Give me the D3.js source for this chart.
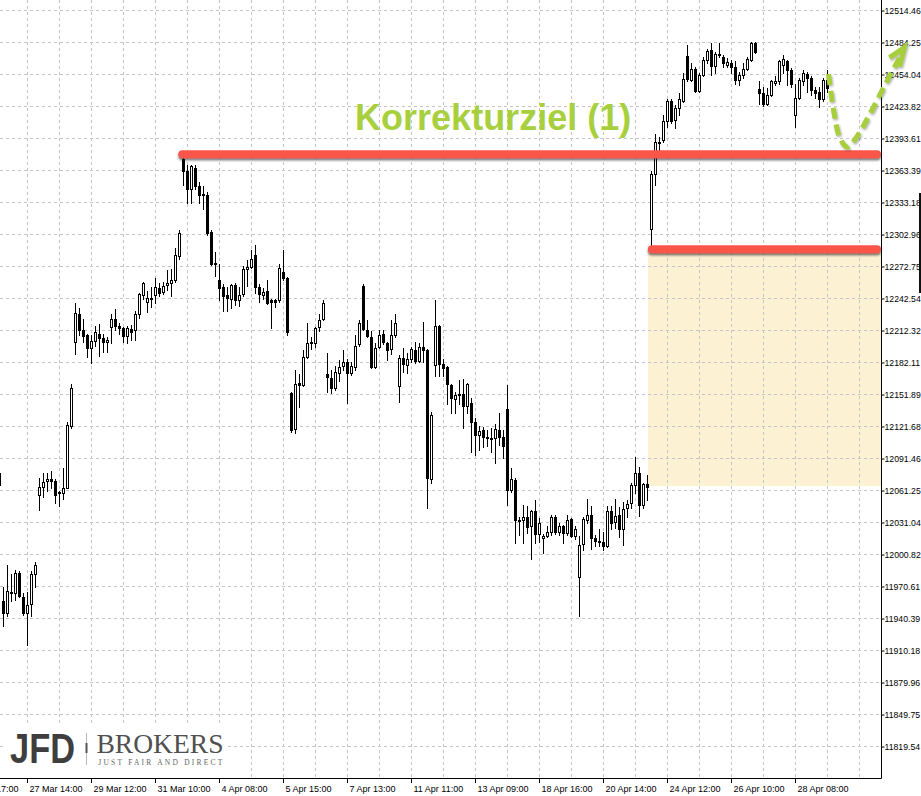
<!DOCTYPE html>
<html><head><meta charset="utf-8">
<script src="https://cdn.jsdelivr.net/npm/d3@7/dist/d3.min.js"></script>
<style>html,body{margin:0;padding:0;background:#fff;overflow:hidden}</style>
</head><body>
<svg id="chart" width="921" height="796"></svg>
<script>
// ---- DATA (DAX bars) ----
const opens = [12077,11956,11945,11964,11964,11983,11960,11945,11954,11982,
12057,12064,12070,12072,12070,12059,12058,12063,12122,12201,
12227,12212,12208,12195,12202,12209,12205,12201,12215,12223,
12216,12214,12207,12213,12212,12227,12245,12239,12243,12245,
12252,12248,12255,12257,12260,12282,12374,12362,12345,12365,
12348,12341,12340,12305,12276,12260,12253,12245,12242,12255,
12241,12246,12270,12272,12283,12253,12245,12249,12241,12241,
12241,12267,12261,12153,12119,12162,12160,12187,12200,12200,
12215,12223,12171,12167,12158,12172,12178,12182,12172,12177,
12199,12254,12212,12206,12177,12196,12209,12200,12194,12208,
12159,12186,12179,12185,12193,12183,12196,12193,12072,12179,
12216,12180,12177,12160,12147,12152,12152,12141,12143,12125,
12113,12118,12111,12110,12110,12118,12111,12138,12061,12071,
12033,12033,12036,12027,12041,12020,12016,12018,12022,12036,
12022,12027,12021,12034,12018,11979,12010,12033,12038,12016,
12013,12012,12008,12041,12031,12038,12024,12044,12049,12066,
12077,12047,12067,12308,12360,12390,12392,12410,12429,12411,
12422,12429,12471,12448,12459,12438,12453,12467,12477,12462,
12472,12470,12463,12464,12461,12448,12453,12459,12467,12483,
12440,12436,12426,12434,12446,12447,12463,12466,12458,12415,
12431,12447,12454,12450,12439,12437,12430,12448];
const highs = [12082,11970,11990,11982,11986,11985,11964,11965,11985,11993,
12073,12077,12077,12079,12072,12060,12082,12125,12161,12238,
12233,12223,12209,12208,12216,12218,12209,12206,12227,12232,
12219,12215,12216,12217,12230,12247,12258,12249,12253,12261,
12257,12258,12269,12270,12290,12307,12378,12368,12368,12368,
12352,12348,12343,12307,12286,12275,12256,12253,12256,12257,
12253,12273,12278,12288,12293,12256,12252,12260,12242,12242,
12275,12288,12262,12154,12175,12171,12193,12219,12206,12215,
12227,12241,12191,12175,12178,12184,12193,12185,12182,12208,
12222,12256,12222,12211,12200,12212,12212,12201,12222,12227,
12189,12195,12191,12196,12201,12200,12220,12194,12135,12241,
12217,12185,12178,12161,12154,12165,12166,12162,12148,12129,
12122,12121,12118,12120,12124,12134,12118,12160,12082,12073,
12036,12047,12046,12042,12052,12035,12020,12027,12038,12038,
12030,12028,12038,12035,12027,12018,12036,12053,12046,12019,
12024,12022,12046,12046,12053,12045,12050,12052,12068,12092,
12083,12068,12075,12362,12397,12395,12415,12430,12430,12425,
12436,12455,12481,12464,12461,12455,12470,12478,12483,12475,
12483,12472,12469,12467,12466,12456,12464,12470,12484,12484,
12447,12442,12441,12448,12452,12467,12472,12467,12460,12445,
12450,12458,12456,12452,12442,12442,12450,12458];
const lows = [12045,11933,11942,11956,11957,11960,11943,11915,11942,11970,
12042,12055,12060,12063,12049,12046,12053,12063,12120,12190,
12208,12201,12187,12181,12197,12188,12192,12192,12200,12212,
12209,12201,12200,12203,12203,12224,12242,12229,12234,12238,
12244,12246,12250,12244,12258,12279,12349,12332,12332,12345,
12332,12327,12302,12274,12263,12241,12230,12230,12233,12236,
12235,12244,12254,12271,12247,12239,12242,12237,12214,12234,
12239,12260,12208,12116,12115,12140,12159,12186,12194,12196,
12211,12222,12154,12153,12156,12164,12175,12143,12170,12175,
12197,12212,12206,12176,12176,12195,12199,12184,12190,12206,
12144,12173,12172,12182,12181,12182,12182,12044,12068,12169,
12169,12169,12142,12134,12134,12142,12120,12134,12097,12094,
12099,12102,12103,12097,12087,12104,12091,12047,12059,12011,
12019,12011,12021,11996,12011,12012,12002,12017,12019,12020,
12019,12011,12019,12017,12015,11942,12005,12030,12006,12008,
12008,12005,12007,12024,12025,12017,12009,12036,12044,12058,
12037,12044,12052,12291,12349,12382,12390,12404,12408,12403,
12415,12428,12447,12447,12437,12437,12452,12464,12453,12455,
12470,12461,12461,12455,12445,12444,12450,12458,12466,12474,
12426,12424,12425,12433,12444,12445,12455,12444,12442,12404,
12430,12444,12437,12434,12431,12423,12429,12437];
const closes = [12066,11945,11966,11965,11983,11961,11945,11953,11982,11990,
12064,12069,12072,12070,12057,12058,12063,12123,12158,12228,
12212,12207,12195,12202,12210,12205,12201,12203,12223,12216,
12214,12207,12214,12210,12227,12246,12257,12243,12242,12253,
12247,12254,12257,12260,12283,12304,12362,12345,12367,12348,
12340,12340,12304,12275,12275,12252,12244,12243,12255,12241,
12245,12270,12272,12279,12253,12246,12248,12238,12239,12239,
12271,12261,12210,12118,12161,12160,12187,12200,12201,12214,
12222,12238,12168,12158,12173,12177,12182,12172,12178,12197,
12219,12213,12207,12177,12195,12208,12201,12193,12208,12219,
12186,12180,12185,12194,12183,12196,12193,12073,12132,12216,
12180,12176,12161,12148,12151,12151,12141,12161,12125,12113,
12117,12111,12110,12109,12119,12111,12103,12061,12072,12033,
12032,12036,12026,12041,12020,12030,12018,12022,12036,12022,
12027,12021,12033,12018,12024,12009,12034,12038,12016,12013,
12012,12008,12041,12030,12037,12024,12043,12048,12066,12077,
12047,12067,12064,12360,12390,12389,12410,12429,12410,12422,
12430,12449,12449,12459,12438,12453,12467,12476,12462,12473,
12473,12464,12465,12461,12448,12453,12459,12468,12483,12475,
12436,12426,12434,12447,12447,12466,12468,12458,12445,12431,
12448,12455,12450,12439,12436,12430,12448,12441];

const priceTicks = [12514.46,12484.25,12454.04,12423.82,12393.61,12363.39,12333.18,12302.96,
  12272.75,12242.54,12212.32,12182.11,12151.89,12121.68,12091.46,12061.25,12031.04,12000.82,
  11970.61,11940.39,11910.18,11879.96,11849.75,11819.54];
const timeLabels = ["24 Mar 17:00","27 Mar 14:00","29 Mar 12:00","31 Mar 10:00","4 Apr 08:00",
  "5 Apr 15:00","7 Apr 13:00","11 Apr 11:00","13 Apr 09:00","18 Apr 16:00","20 Apr 14:00",
  "24 Apr 12:00","26 Apr 10:00","28 Apr 08:00"];
const timeLabelFirstBar = -9, timeLabelStep = 16;   // bar index of each label
const gridFirstBar = -1, gridStep = 8;

// annotations (bar index, price)
const resistanceLevel = 12378.3, resistanceFromBar = 45.7;
const gapTopLevel = 12288.5, gapBottomLevel = 12065, gapFromBar = 162.1, gapLineFromBar = 163.1;
const labelText = "Korrekturziel (1)", labelBar = 88.9, labelPrice = 12401.6;
const arrowBars   = [207.25,208.6,210.1,211.9,214.1,217.6,221.6,225.4];
const arrowPrices = [12454,12418.2,12393.6,12385.1,12393.6,12416.3,12445.5,12472];
const headBars   = [222.5,226.2,225.0];
const headPrices = [12469.5,12479,12461];

// ---- LAYOUT ----
const plotRight = 881, plotBottom = 778;
const svg = d3.select("#chart");
const x = d3.scaleLinear().domain([0, 1]).range([-0.5, 3.5]);
const y = d3.scaleLinear().domain([11819.54, 12514.46]).range([746, 10]);
const maxBar = x.invert(plotRight);

const defs = svg.append("defs");
defs.append("clipPath").attr("id","plot").append("rect")
  .attr("x",0).attr("y",0).attr("width",plotRight).attr("height",plotBottom);
const f = defs.append("filter").attr("id","sh").attr("filterUnits","userSpaceOnUse")
  .attr("x",0).attr("y",0).attr("width",921).attr("height",796);
f.append("feDropShadow").attr("dx",0).attr("dy",2).attr("stdDeviation",0.8)
  .attr("flood-color","#222").attr("flood-opacity",0.65);
const f2 = defs.append("filter").attr("id","sh2").attr("filterUnits","userSpaceOnUse")
  .attr("x",0).attr("y",0).attr("width",921).attr("height",796);
f2.append("feDropShadow").attr("dx",1).attr("dy",1.5).attr("stdDeviation",0.8)
  .attr("flood-color","#444").attr("flood-opacity",0.45);

svg.append("rect").attr("width",921).attr("height",796).attr("fill","#fff");

const plot = svg.append("g").attr("clip-path","url(#plot)");

// gap shading
plot.append("rect")
  .attr("x", x(gapFromBar)).attr("y", y(gapTopLevel))
  .attr("width", plotRight - x(gapFromBar))
  .attr("height", y(gapBottomLevel) - y(gapTopLevel))
  .attr("fill", "#fdf1d3");

// grid
const grid = plot.append("g").attr("stroke","#c4c4c4").attr("stroke-dasharray","3,3").attr("stroke-width",1);
priceTicks.forEach(v => {
  const yy = Math.round(y(v)) + 0.5;
  grid.append("line").attr("x1",0).attr("x2",plotRight).attr("y1",yy).attr("y2",yy);
});
for (let b = gridFirstBar; b <= maxBar; b += gridStep) {
  const xx = x(b);
  if (xx < 0) continue;
  grid.append("line").attr("x1",xx).attr("x2",xx).attr("y1",0).attr("y2",plotBottom);
}

// candles
const bars = d3.range(opens.length).map(i => ({i, o:opens[i], h:highs[i], l:lows[i], c:closes[i]}));
const cg = plot.append("g");
cg.selectAll("line.wick").data(bars).join("line").attr("class","wick")
  .attr("x1", d => x(d.i)).attr("x2", d => x(d.i))
  .attr("y1", d => Math.round(y(d.h))).attr("y2", d => Math.round(y(d.l)) + 1)
  .attr("stroke","#000").attr("stroke-width",1);
cg.selectAll("rect.body").data(bars).join("rect").attr("class","body")
  .attr("x", d => x(d.i) - 1)
  .attr("y", d => Math.round(y(Math.max(d.o, d.c))) + 0.5)
  .attr("width", 2)
  .attr("height", d => Math.max(0, Math.round(y(Math.min(d.o, d.c))) - Math.round(y(Math.max(d.o, d.c)))))
  .attr("fill", d => d.c >= d.o ? "#fff" : "#000")
  .attr("stroke","#000").attr("stroke-width",1);

// red lines
const redLine = (fromBar, level) => {
  plot.append("line")
    .attr("x1", x(fromBar)).attr("x2", plotRight - 4)
    .attr("y1", y(level)).attr("y2", y(level))
    .attr("stroke","#f9574a").attr("stroke-width",8).attr("stroke-linecap","round")
    .attr("filter","url(#sh)");
};
redLine(resistanceFromBar, resistanceLevel);
redLine(gapLineFromBar, gapTopLevel);

// border
svg.append("line").attr("x1",plotRight+0.5).attr("x2",plotRight+0.5).attr("y1",0).attr("y2",plotBottom+0.5)
  .attr("stroke","#000");
svg.append("line").attr("x1",0).attr("x2",plotRight+0.5).attr("y1",plotBottom+0.5).attr("y2",plotBottom+0.5)
  .attr("stroke","#000");

// right axis
const yAxis = d3.axisRight(y).tickValues(priceTicks).tickFormat(d => d.toFixed(2)).tickSize(3).tickPadding(0);
const ya = svg.append("g").attr("transform",`translate(${plotRight + 0.5},0.5)`).call(yAxis);
ya.select(".domain").remove();
ya.selectAll("text").attr("font-family","'Liberation Sans', Arial, sans-serif").attr("font-size","8.7px").attr("fill","#000");
ya.selectAll("line").attr("stroke","#000");

// bottom labels
const tg = svg.append("g").attr("font-family","'Liberation Sans', Arial, sans-serif").attr("font-size","9px").attr("fill","#000");
timeLabels.forEach((t, k) => {
  const xx = x(timeLabelFirstBar + k * timeLabelStep);
  tg.append("line").attr("x1",xx).attr("x2",xx).attr("y1",plotBottom).attr("y2",plotBottom+5).attr("stroke","#000");
  tg.append("text").attr("x", xx + 2).attr("y", 791.5).text(t);
});

// right-edge marker
svg.append("rect").attr("x",919).attr("y",193).attr("width",2).attr("height",100).attr("fill","#111");

// label
svg.append("text").attr("x", x(labelBar)).attr("y", y(labelPrice))
  .attr("font-family","'Liberation Sans', Arial, sans-serif").attr("font-weight","bold")
  .attr("font-size","36px").attr("fill","#a8d03e").text(labelText);

// dashed arrow
const line = d3.line().x(d => x(d[0])).y(d => y(d[1])).curve(d3.curveCatmullRom.alpha(0.5));
const ag = svg.append("g").attr("filter","url(#sh2)");
ag.append("path").attr("d", line(arrowBars.map((b, k) => [b, arrowPrices[k]])))
  .attr("fill","none").attr("stroke","#a6cf3b").attr("stroke-width",5)
  .attr("stroke-dasharray","11,6");
ag.append("path").attr("d", d3.line().x(d => x(d[0])).y(d => y(d[1]))(headBars.map((b, k) => [b, headPrices[k]])))
  .attr("fill","none").attr("stroke","#a6cf3b").attr("stroke-width",5)
  .attr("stroke-linejoin","miter");

// logo
const logo = svg.append("g");
logo.append("rect").attr("x",6).attr("y",726).attr("width",222).attr("height",51).attr("fill","#fff");
logo.append("text").attr("x",10).attr("y",763).attr("font-family","'Liberation Sans', Arial, sans-serif")
  .attr("font-weight","bold").attr("font-size","42px").attr("fill","#3e3e3e")
  .attr("textLength",65).attr("lengthAdjust","spacingAndGlyphs").text("JFD");
logo.append("line").attr("x1",86.5).attr("x2",86.5).attr("y1",733).attr("y2",765).attr("stroke","#aaa").attr("stroke-width",0.8);
logo.append("rect").attr("x",85.5).attr("y",743).attr("width",2).attr("height",10).attr("fill","#555");
logo.append("text").attr("x",96.5).attr("y",753.3).attr("font-family","'Liberation Serif', 'Times New Roman', serif")
  .attr("font-size","28px").attr("fill","#505050")
  .attr("textLength",127).attr("lengthAdjust","spacingAndGlyphs").text("BROKERS");
logo.append("text").attr("x",98.3).attr("y",765).attr("font-family","'Liberation Serif', 'Times New Roman', serif")
  .attr("font-size","7.5px").attr("fill","#666")
  .attr("textLength",124).attr("lengthAdjust","spacing").text("JUST FAIR AND DIRECT");
</script>
</body></html>
